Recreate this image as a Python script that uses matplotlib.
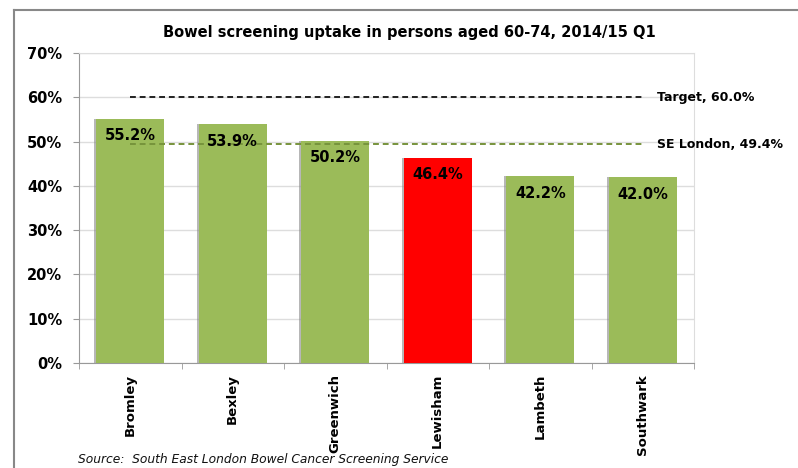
import matplotlib
matplotlib.use("Agg")
import matplotlib.pyplot as plt
from matplotlib.lines import Line2D
import matplotlib.patheffects as pe
from matplotlib.ticker import MultipleLocator, FuncFormatter, FixedLocator

plt.rcParams['font.family'] = ['DejaVu Sans']

categories = ["Bromley", "Bexley", "Greenwich", "Lewisham", "Lambeth", "Southwark"]
values = [55.2, 53.9, 50.2, 46.4, 42.2, 42.0]
bar_colors = ["#9BBB59", "#9BBB59", "#9BBB59", "#FF0000", "#9BBB59", "#9BBB59"]
target_value = 60.0
selondon_value = 49.4
title = "Bowel screening uptake in persons aged 60-74, 2014/15 Q1"
source = "Source:  South East London Bowel Cancer Screening Service"

W, H = 798, 468
fig = plt.figure(figsize=(W / 100, H / 100), dpi=100)
ax = fig.add_axes([79 / W, 1 - 363 / H, (694 - 79) / W, (363 - 53) / H])

x = list(range(len(categories)))
bars = ax.bar(x, values, width=0.66, color=bar_colors, zorder=3,
              path_effects=[pe.SimplePatchShadow(offset=(-1.5, 0), shadow_rgbFace='#888888', alpha=0.6), pe.Normal()])

ax.set_xlim(-0.5, len(categories) - 0.5)
ax.set_ylim(0, 70)
ax.yaxis.set_major_locator(MultipleLocator(10))
ax.yaxis.set_major_formatter(FuncFormatter(lambda v, p: f"{v:.0f}%"))
ax.grid(axis='y', color='#DDDDDD', linewidth=1, zorder=0)
ax.set_axisbelow(True)

# target and SE London lines from first to last category centre
ax.plot([x[0], x[-1]], [target_value, target_value], color='#222222', linestyle=(0, (3, 2)), linewidth=1.4, zorder=4)
ax.plot([x[0], x[-1]], [selondon_value, selondon_value], color='#77933C', linestyle=(0, (3, 2)), linewidth=1.4, zorder=4)
ax.annotate(f"Target, {target_value:.1f}%", xy=(x[-1], target_value), xytext=(10, 0), textcoords='offset points',
            va='center', ha='left', fontsize=9, fontweight='bold', annotation_clip=False)
ax.annotate(f"SE London, {selondon_value:.1f}%", xy=(x[-1], selondon_value), xytext=(10, 0), textcoords='offset points',
            va='center', ha='left', fontsize=9, fontweight='bold', annotation_clip=False)

for xi, v in zip(x, values):
    ax.annotate(f"{v:.1f}%", xy=(xi, v), xytext=(0, -7), textcoords='offset points',
                ha='center', va='top', fontsize=10.5, fontweight='bold', zorder=5)

# axes styling
ax.spines['left'].set_color('#999999')
ax.spines['bottom'].set_color('#999999')
ax.spines['top'].set_color('#DDDDDD')
ax.spines['right'].set_color('#DDDDDD')
ax.tick_params(axis='y', length=4, color='#999999', labelsize=10.5, pad=8)
for lab in ax.get_yticklabels():
    lab.set_fontweight('bold')

ax.set_xticks(x)
ax.set_xticklabels(categories, rotation=90, fontsize=9.5, fontweight='bold', va='top')
ax.tick_params(axis='x', length=0, pad=8)
# ticks between categories
ax.xaxis.set_minor_locator(FixedLocator([i - 0.5 for i in range(len(categories) + 1)]))
ax.tick_params(axis='x', which='minor', length=4, color='#999999')

fig.text(409 / W, 1 - 33 / H, title, ha='center', va='center', fontsize=10.5, fontweight='bold')
fig.text(78 / W, 1 - 460 / H, source, ha='left', va='center', fontsize=8.8, style='italic', color='#111111')

# outer frame
fig.add_artist(Line2D([14 / W, 14 / W], [0, 1 - 10 / H], color='#888888', linewidth=1.5, transform=fig.transFigure))
fig.add_artist(Line2D([14 / W, 1], [1 - 10 / H, 1 - 10 / H], color='#888888', linewidth=1.5, transform=fig.transFigure))

fig.savefig("out.png", dpi=100)
